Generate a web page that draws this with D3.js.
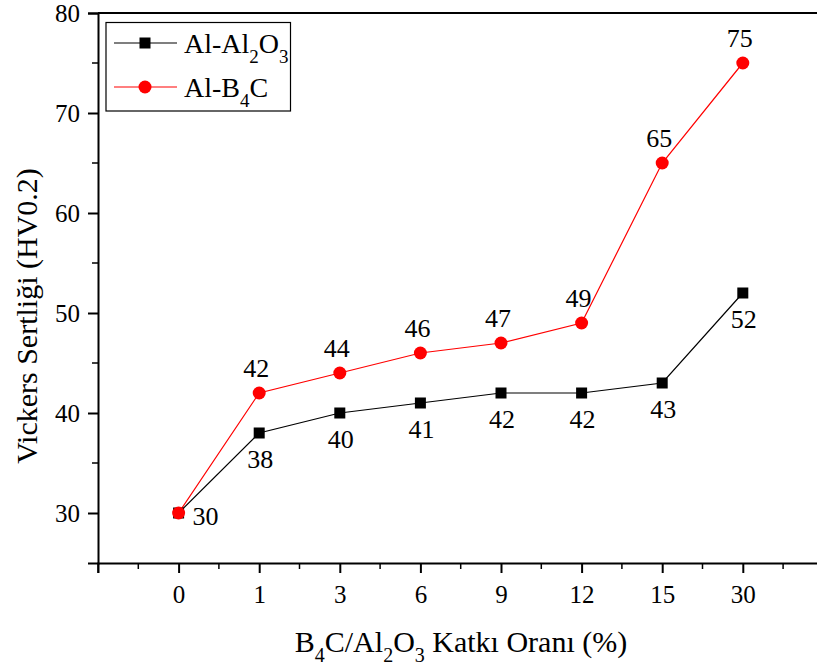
<!DOCTYPE html>
<html>
<head>
<meta charset="utf-8">
<script src="https://cdn.jsdelivr.net/npm/d3@7.9.0/dist/d3.min.js"></script>
<style>
  body { margin: 0; background: #fff; }
  svg text { font-family: "Liberation Serif", "Times New Roman", serif; fill: #000; }
</style>
</head>
<body>
<svg id="chart" width="817" height="668"></svg>
<script>
// data
const categories = ['0', '1', '3', '6', '9', '12', '15', '30'];
const alumina = [30, 38, 40, 41, 42, 42, 43, 52];
const boronCarbide = [30, 42, 44, 46, 47, 49, 65, 75];
const yTicks = [30, 40, 50, 60, 70, 80];

const svg = d3.select('#chart');
const plotLeft = 98, plotTop = 13, plotBottom = 563;
const serif = '"Liberation Serif", serif';

const x = d3.scaleLinear().domain([-1, 8]).range([plotLeft, plotLeft + 9 * 80.6]);
const y = d3.scaleLinear().domain([25, 80]).range([plotBottom, plotTop]);

// axes
const yAxis = d3.axisLeft(y).tickValues(yTicks).tickSize(10).tickPadding(8);
const gy = svg.append('g').attr('transform', `translate(${plotLeft},0)`).call(yAxis)
  .attr('font-family', serif);
gy.selectAll('text').style('font-size', '25px');
// minor y ticks
gy.selectAll('.minor').data([35, 45, 55, 65, 75]).enter().append('line')
  .attr('x1', -6).attr('x2', 0).attr('y1', d => y(d)).attr('y2', d => y(d))
  .attr('stroke', '#000').attr('stroke-width', 1.5);

const xAxis = d3.axisBottom(x).tickValues(d3.range(categories.length))
  .tickFormat(i => categories[i]).tickSize(10).tickPadding(12);
const gx = svg.append('g').attr('transform', `translate(0,${plotBottom})`).call(xAxis)
  .attr('font-family', serif);
gx.selectAll('text').style('font-size', '25px');
gx.selectAll('.minor').data([-1, -0.5, 0.5, 1.5, 2.5, 3.5, 4.5, 5.5, 6.5, 7.5]).enter().append('line')
  .attr('x1', d => x(d)).attr('x2', d => x(d)).attr('y1', 0).attr('y2', d => d === -1 ? 10 : 6)
  .attr('stroke', '#000').attr('stroke-width', 1.5);

[gx, gy].forEach(g => {
  g.select('.domain').attr('stroke-width', 2);
  g.selectAll('.tick line').attr('stroke-width', 2);
});

// top frame line
svg.append('line').attr('x1', plotLeft).attr('x2', 817).attr('y1', plotTop).attr('y2', plotTop)
  .attr('stroke', '#000').attr('stroke-width', 2);

// series
const line = d3.line().x((d, i) => x(i)).y(d => y(d));

svg.append('path').datum(alumina).attr('d', line)
  .attr('fill', 'none').attr('stroke', '#000').attr('stroke-width', 1.2);
svg.append('path').datum(boronCarbide).attr('d', line)
  .attr('fill', 'none').attr('stroke', '#ff0000').attr('stroke-width', 1.2);

svg.selectAll('.sq').data(alumina).enter().append('rect')
  .attr('x', (d, i) => x(i) - 5.5).attr('y', d => y(d) - 5.5)
  .attr('width', 11).attr('height', 11).attr('fill', '#000');
svg.selectAll('.ci').data(boronCarbide).enter().append('circle')
  .attr('cx', (d, i) => x(i)).attr('cy', d => y(d)).attr('r', 6.5).attr('fill', '#ff0000');

// value labels
svg.selectAll('.lb').data(alumina).enter().append('text')
  .attr('x', (d, i) => i === 0 ? x(i) + 27 : x(i) + 1)
  .attr('y', (d, i) => i === 0 ? y(d) + 12 : y(d) + 35)
  .attr('text-anchor', 'middle').style('font-size', '26px').text(d => d);
svg.selectAll('.lr').data(boronCarbide.slice(1)).enter().append('text')
  .attr('x', (d, i) => x(i + 1) - 3)
  .attr('y', d => y(d) - 16)
  .attr('text-anchor', 'middle').style('font-size', '26px').text(d => d);

// axis titles
svg.append('text').attr('transform', 'translate(37,316) rotate(-90)')
  .attr('text-anchor', 'middle').style('font-size', '30px')
  .text('Vickers Sertliği (HV0.2)');

const xt = svg.append('text').attr('x', 461).attr('y', 652)
  .attr('text-anchor', 'middle').style('font-size', '30px');
xt.append('tspan').text('B');
xt.append('tspan').attr('dy', 10).style('font-size', '20px').text('4');
xt.append('tspan').attr('dy', -10).text('C/Al');
xt.append('tspan').attr('dy', 10).style('font-size', '20px').text('2');
xt.append('tspan').attr('dy', -10).text('O');
xt.append('tspan').attr('dy', 10).style('font-size', '20px').text('3');
xt.append('tspan').attr('dy', -10).text(' Katkı Oranı (%)');

// legend
const lg = svg.append('g');
lg.append('rect').attr('x', 106).attr('y', 22.5).attr('width', 184.5).attr('height', 88.5)
  .attr('fill', '#fff').attr('stroke', '#000').attr('stroke-width', 1.2);
const items = [
  { color: '#000', shape: 'rect', parts: [['Al-Al', 0], ['2', 1], ['O', 0], ['3', 1]] },
  { color: '#ff0000', shape: 'circle', parts: [['Al-B', 0], ['4', 1], ['C', 0]] }
];
items.forEach((it, k) => {
  const cy = 43 + k * 44;
  lg.append('line').attr('x1', 114).attr('x2', 177).attr('y1', cy).attr('y2', cy)
    .attr('stroke', it.color).attr('stroke-width', 1.2);
  if (it.shape === 'rect') {
    lg.append('rect').attr('x', 139.5).attr('y', cy - 5.5).attr('width', 11).attr('height', 11).attr('fill', it.color);
  } else {
    lg.append('circle').attr('cx', 145).attr('cy', cy).attr('r', 6.5).attr('fill', it.color);
  }
  const t = lg.append('text').attr('x', 184).attr('y', cy + 10).style('font-size', '28px');
  let sub = 0;
  it.parts.forEach(([s, isSub]) => {
    const dy = isSub && !sub ? 10 : (!isSub && sub ? -10 : 0);
    t.append('tspan').attr('dy', dy).style('font-size', isSub ? '19px' : '28px').text(s);
    sub = isSub;
  });
});
</script>
</body>
</html>
